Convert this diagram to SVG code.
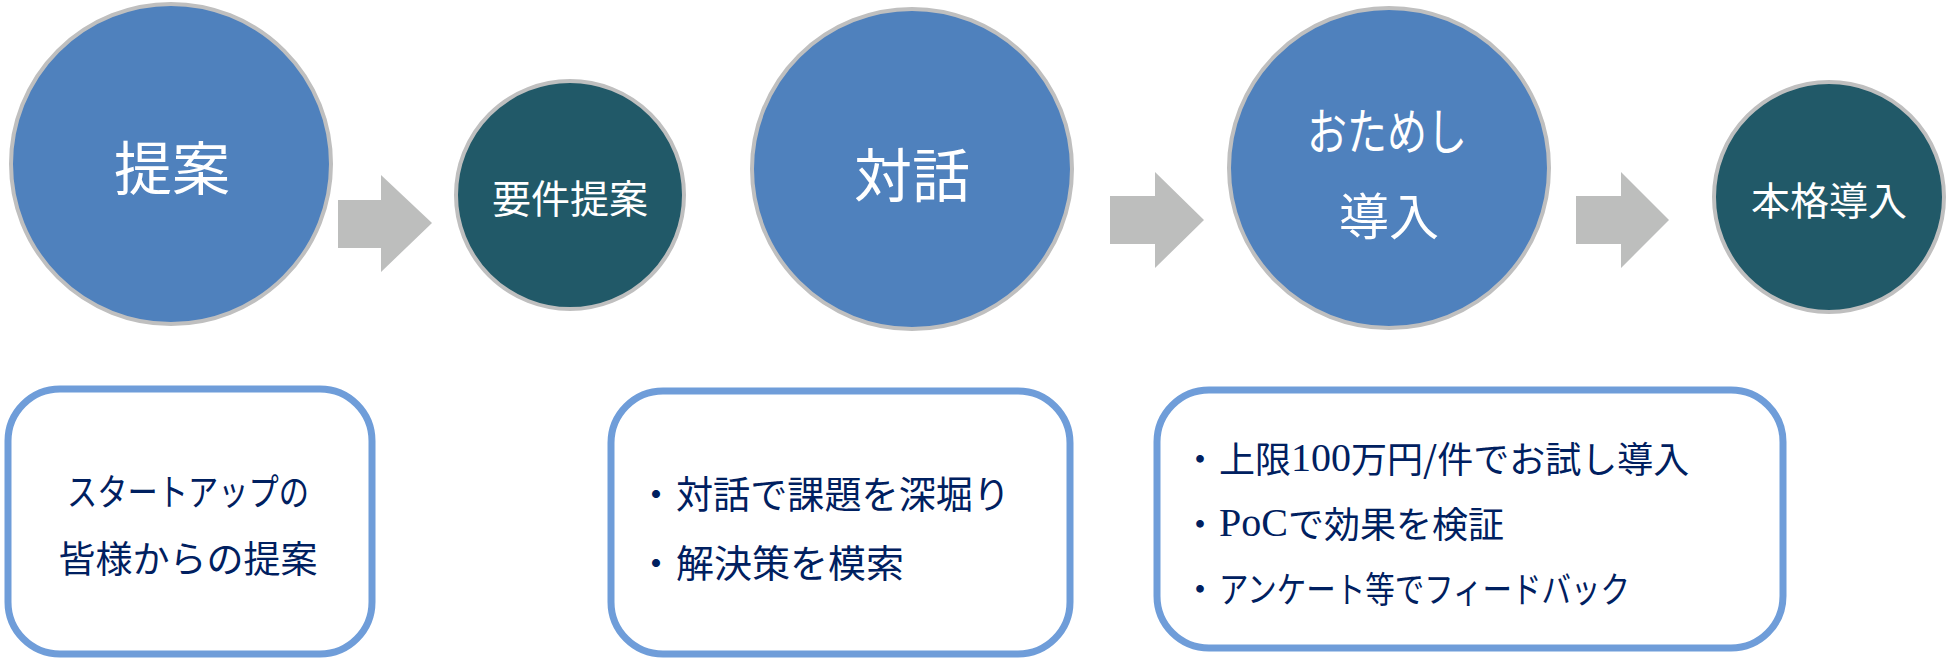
<svg xmlns="http://www.w3.org/2000/svg" width="1950" height="662" viewBox="0 0 1950 662">
<style>
.big{fill:#4F81BD;stroke:#BFBFBF;stroke-width:4}
.small{fill:#215968;stroke:#BFBFBF;stroke-width:4}
.arrow{fill:#BDBEBD}
.box{fill:#FFFFFF;stroke:#6F9DD9;stroke-width:7}
.ct{font-family:"Noto Sans CJK JP","Noto Sans CJK SC",sans-serif;fill:#FFFFFF;text-anchor:middle;dominant-baseline:central}
.bt{font-family:"Noto Sans CJK JP","Noto Sans CJK SC",sans-serif;fill:#002060;dominant-baseline:central}
.ser{font-family:"Liberation Serif","Noto Sans CJK JP",serif}
</style>
<rect width="1950" height="662" fill="#FFFFFF"/>
<g id="connectors">
<polygon class="arrow" points="338,200 381,200 381,175 432,223 381,272 381,248 338,248"/>
<polygon class="arrow" points="1110,196 1155,196 1155,172 1204,220 1155,268 1155,244 1110,244"/>
<polygon class="arrow" points="1576,196 1621,196 1621,172 1669,220 1621,268 1621,244 1576,244"/>
</g>
<g id="node-teian">
<circle class="big" cx="171" cy="164" r="160"/>
<text class="ct" x="172" y="165" font-size="58">提案</text>
</g>
<g id="node-youken">
<circle class="small" cx="570" cy="195" r="114"/>
<text class="ct" x="570" y="196" font-size="39">要件提案</text>
</g>
<g id="node-taiwa">
<circle class="big" cx="912" cy="169" r="160"/>
<text class="ct" x="912" y="172" font-size="58">対話</text>
</g>
<g id="node-otameshi">
<circle class="big" cx="1389" cy="168" r="160"/>
<text class="ct" x="1387" y="128" font-size="50" textLength="160" lengthAdjust="spacingAndGlyphs">おためし</text>
<text class="ct" x="1389" y="213" font-size="50">導入</text>
</g>
<g id="node-honkaku">
<circle class="small" cx="1829" cy="197" r="115"/>
<text class="ct" x="1829" y="198" font-size="39">本格導入</text>
</g>
<g id="box-proposal">
<rect class="box" x="8" y="389" width="364" height="265" rx="52"/>
<text class="bt" x="188" y="490" font-size="37" text-anchor="middle" textLength="242" lengthAdjust="spacingAndGlyphs">スタートアップの</text>
<text class="bt" x="188" y="557" font-size="37" text-anchor="middle">皆様からの提案</text>
</g>
<g id="box-dialogue">
<rect class="box" x="611" y="391" width="459" height="263" rx="52"/>
<text class="bt" font-size="38"><tspan x="637" y="491">・</tspan><tspan x="676" y="491" textLength="334" lengthAdjust="spacingAndGlyphs">対話で課題を深堀り</tspan></text>
<text class="bt" font-size="38"><tspan x="637" y="560">・</tspan><tspan x="676" y="560">解決策を模索</tspan></text>
</g>
<g id="box-trial">
<rect class="box" x="1157" y="390" width="626" height="258" rx="52"/>
<text class="bt" font-size="36"><tspan x="1182" y="457">・</tspan><tspan x="1219" y="457">上限</tspan><tspan class="ser" font-size="40">100</tspan><tspan>万円/件でお試し導入</tspan></text>
<text class="bt" font-size="36"><tspan x="1182" y="522">・</tspan><tspan x="1219" y="522" class="ser" font-size="40">PoC</tspan><tspan>で効果を検証</tspan></text>
<text class="bt" font-size="36"><tspan x="1182" y="587">・</tspan><tspan x="1219" y="587" textLength="411" lengthAdjust="spacingAndGlyphs">アンケート等でフィードバック</tspan></text>
</g>
</svg>
